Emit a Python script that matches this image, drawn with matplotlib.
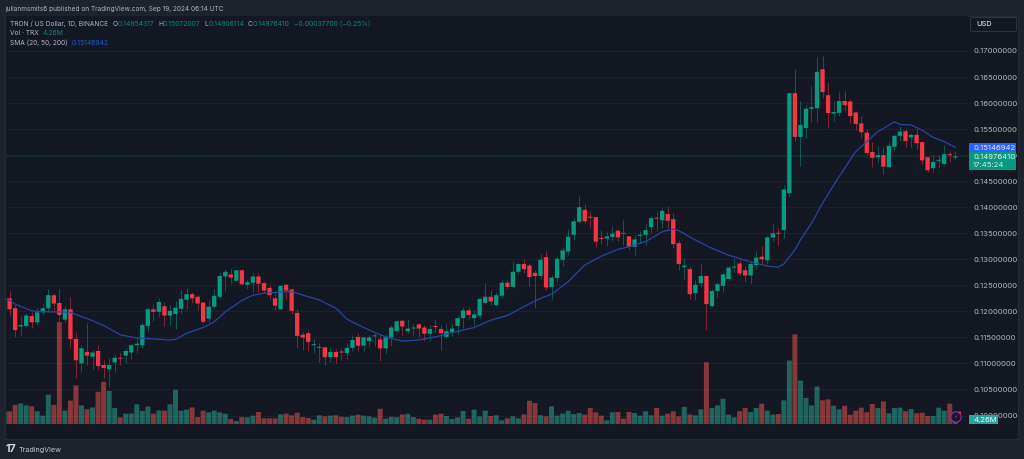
import matplotlib
matplotlib.use("Agg")
import matplotlib.pyplot as plt
from matplotlib.patches import Circle, FancyBboxPatch, Rectangle
from matplotlib.transforms import Bbox

W, H = 1024, 459

opens = [
    .1225, .1206, .1171, .1172, .1191, .1179, .1198, .1206, .1231, .1216,
    .1184, .1204, .1147, .1100, .1122, .1113, .1124, .1097, .1089, .1102,
    .1110, .1115, .1121, .1135, .1135, .1172, .1204, .1199, .1210, .1192,
    .1195, .1205, .1222, .1233, .1228, .1217, .1186, .1209, .1228, .1267,
    .1271, .1259, .1279, .1251, .1255, .1267, .1254, .1245, .1225, .1204,
    .1251, .1242, .1197, .1155, .1158, .1135, .1130, .1131, .1112, .1122,
    .1122, .1120, .1130, .1151, .1134, .1143, .1152, .1146, .1129, .1150,
    .1162, .1182, .1162, .1167, .1175, .1169, .1157, .1172, .1166, .1151,
    .1160, .1172, .1187, .1202, .1187, .1192, .1216, .1228, .1212, .1230,
    .1255, .1247, .1276, .1291, .1288, .1274, .1268, .1304, .1247, .1264,
    .1299, .1315, .1347, .1372, .1395, .1381, .1381, .1341, .1340, .1343,
    .1355, .1350, .1344, .1324, .1345, .1347, .1362, .1379, .1375, .1387,
    .1377, .1331, .1285, .1281, .1235, .1254, .1268, .1210, .1239, .1249,
    .1262, .1284, .1292, .1279, .1269, .1289, .1305, .1298, .1342, .1350,
    .1356, .1427, .1619, .1535, .1552, .1589, .1590, .1665, .1615, .1580,
    .1581, .1604, .1603, .1582, .1561, .1543, .1506, .1496, .1500, .1477,
    .1516, .1537, .1546, .1534, .1539, .1525, .1496, .1475, .1489, .1483,
    .1502, .14954,
]
highs = [
    .1239, .1212, .1192, .1196, .1199, .1206, .1215, .1243, .1236, .1243,
    .1210, .1228, .1161, .1135, .1177, .1126, .1135, .1106, .1110, .1116,
    .1121, .1129, .1140, .1148, .1180, .1209, .1215, .1225, .1218, .1212,
    .1219, .1241, .1245, .1238, .1231, .1218, .1222, .1242, .1275, .1281,
    .1281, .1279, .1281, .1263, .1273, .1273, .1257, .1251, .1235, .1251,
    .1253, .1245, .1204, .1161, .1164, .1147, .1139, .1131, .1129, .1128,
    .1129, .1139, .1155, .1158, .1151, .1155, .1159, .1155, .1157, .1174,
    .1183, .1183, .1185, .1177, .1177, .1174, .1173, .1185, .1174, .1176,
    .1176, .1193, .1209, .1208, .1203, .1227, .1255, .1241, .1238, .1262,
    .1262, .1296, .1293, .1300, .1293, .1280, .1310, .1315, .1270, .1306,
    .1323, .1358, .1379, .1422, .1406, .1393, .1382, .1356, .1353, .1364,
    .1356, .1375, .1345, .1347, .1355, .1369, .1383, .1390, .1398, .1402,
    .1389, .1337, .1302, .1288, .1260, .1291, .1270, .1243, .1257, .1276,
    .1288, .1303, .1299, .1288, .1297, .1316, .1325, .1346, .1367, .1361,
    .1442, .1620, .1665, .1604, .1596, .1633, .1688, .1690, .1640, .1604,
    .1621, .1623, .1607, .1584, .1575, .1550, .1526, .1518, .1515, .1526,
    .1540, .1556, .1551, .1542, .1550, .1526, .1497, .1500, .1500, .1519,
    .1507, .15072,
]
lows = [
    .1192, .1151, .1153, .1170, .1169, .1174, .1193, .1198, .1198, .1180,
    .1180, .1129, .1072, .1084, .1097, .1087, .1087, .1072, .1055, .1084,
    .1097, .1100, .1108, .1121, .1130, .1162, .1182, .1190, .1172, .1174,
    .1166, .1196, .1204, .1217, .1203, .1177, .1179, .1206, .1226, .1240,
    .1254, .1258, .1251, .1242, .1238, .1238, .1235, .1224, .1203, .1204,
    .1222, .1195, .1130, .1126, .1124, .1121, .1102, .1097, .1103, .1101,
    .1107, .1108, .1123, .1123, .1124, .1132, .1134, .1105, .1119, .1134,
    .1158, .1155, .1158, .1153, .1150, .1143, .1144, .1160, .1126, .1148,
    .1153, .1157, .1169, .1186, .1173, .1187, .1214, .1212, .1211, .1225,
    .1243, .1244, .1271, .1273, .1249, .1206, .1263, .1241, .1224, .1257,
    .1288, .1308, .1337, .1369, .1370, .1361, .1324, .1329, .1326, .1335,
    .1335, .1327, .1318, .1308, .1331, .1327, .1351, .1355, .1361, .1361,
    .1321, .1279, .1263, .1223, .1222, .1247, .1164, .1209, .1228, .1238,
    .1259, .1275, .1270, .1256, .1252, .1281, .1290, .1290, .1335, .1328,
    .1340, .1420, .1528, .1479, .1532, .1564, .1564, .1610, .1552, .1566,
    .1575, .1585, .1561, .1548, .1532, .1500, .1478, .1486, .1463, .1475,
    .1507, .1527, .1516, .1515, .1512, .1483, .1467, .1468, .1475, .1482,
    .1486, .14906,
]
closes = [
    .1204, .1164, .1174, .1192, .1179, .1198, .1206, .1231, .1215, .1193,
    .1204, .1147, .1106, .1129, .1115, .1121, .1095, .1091, .1097, .1111,
    .1109, .1124, .1135, .1138, .1174, .1204, .1199, .1218, .1192, .1201,
    .1207, .1224, .1233, .1225, .1215, .1180, .1209, .1230, .1268, .1276,
    .1265, .1279, .1252, .1256, .1267, .1253, .1240, .1231, .1211, .1249,
    .1240, .1201, .1153, .1150, .1141, .1137, .1131, .1112, .1122, .1112,
    .1121, .1130, .1145, .1134, .1150, .1150, .1153, .1129, .1150, .1169,
    .1181, .1171, .1167, .1168, .1167, .1157, .1166, .1170, .1158, .1162,
    .1167, .1187, .1202, .1193, .1194, .1224, .1228, .1219, .1231, .1255,
    .1247, .1276, .1291, .1281, .1266, .1268, .1299, .1246, .1265, .1301,
    .1317, .1343, .1373, .1400, .1373, .1380, .1334, .1339, .1344, .1349,
    .1342, .1349, .1324, .1338, .1347, .1356, .1379, .1378, .1393, .1374,
    .1329, .1291, .1288, .1233, .1251, .1268, .1214, .1239, .1252, .1271,
    .1284, .1286, .1273, .1269, .1291, .1303, .1300, .1342, .1350, .1349,
    .1434, .1619, .1535, .1558, .1589, .1592, .1660, .1621, .1581, .1583,
    .1604, .1596, .1575, .1560, .1544, .1504, .1495, .1500, .1478, .1518,
    .1537, .1545, .1527, .1539, .1523, .1490, .1471, .1487, .1491, .1502,
    .1500, .14976,
]
# volume in millions of TRX, one per candle
volumes = [
    14.6, 22, 23.7, 21.4, 20.3, 14.6, 9.6, 33.7, 22, 117,
    15.3, 27, 44.4, 21.4, 17, 19, 37, 48.6, 38, 18.4,
    7.7, 11.9, 11.9, 22.6, 15, 20, 11.9, 15.7, 15.3, 22.6,
    39.4, 15.3, 16.5, 19, 8, 15.3, 13.4, 15.3, 13.4, 11.9,
    5.7, 3.4, 8, 7.7, 9.6, 13.8, 6.5, 6.5, 6.5, 11,
    11.9, 10, 13, 8, 6.9, 5, 10, 8.8, 9.6, 10,
    8.4, 8, 9.6, 10.7, 9.6, 8.8, 7.3, 17.6, 6.1, 8.4,
    7.7, 11, 11.9, 8, 6, 5, 5, 10.7, 11.9, 9.2,
    5.7, 7.7, 15, 6, 16.5, 8.8, 15.3, 9.2, 10, 4.2,
    6.5, 8.8, 6.5, 11, 26.8, 24, 10, 8.8, 20.3, 9.6,
    11.9, 15.3, 11.5, 12.6, 10.7, 18.4, 13.4, 9.6, 4.2, 13.4,
    13.8, 6, 13.8, 12.6, 9.6, 14.6, 10, 18.4, 9.6, 11.9,
    14.6, 8.8, 19.5, 11, 10, 16.9, 70.9, 18.4, 21.4, 29,
    10.7, 7.7, 14.6, 18.4, 13.8, 18.4, 23.4, 15.3, 10.7, 11.5,
    27.2, 73, 103, 50, 30, 21.4, 43, 27.2, 28.3, 21,
    16.9, 21, 10.7, 15.3, 18.8, 13.4, 23, 18.4, 26, 12.3,
    18.4, 18.8, 14.6, 17.2, 12.3, 13, 9.2, 9.2, 18.8, 15.3,
    23.4, 4.26,
]
# the bar before the first candle, mostly cut off by the left edge
prior_volume = 14

sma_days = [
    -1, 0, 1, 4, 7, 9, 11, 13, 15, 17, 19, 20, 23, 26, 29, 30, 32, 35, 37, 39,
    42, 44, 46, 49, 51, 54, 56, 59, 60, 61, 64, 67, 69, 71, 74, 77, 80, 84, 87,
    90, 93, 96, 98, 101, 104, 107, 110, 112, 115, 116, 118, 120, 121, 122, 123,
    124, 127, 130, 134, 137, 139, 140, 142, 143, 145, 147, 150, 153, 155, 157,
    160, 161, 163, 165, 167, 169, 171,
]
sma_values = [
    .1225, .1221, .1214, .1201, .1199, .1199, .1198, .1190, .1182, .1173, .1161,
    .1155, .1149, .1147, .1145, .1146, .1158, .1169, .1180, .1199, .1221, .1231,
    .1235, .1237, .1238, .1228, .1222, .1206, .1196, .1185, .1169, .1155, .1148,
    .1143, .1145, .1151, .1159, .1169, .1183, .1192, .1209, .1225, .1233, .1257,
    .1289, .1306, .1319, .1324, .1334, .1340, .1353, .1358, .1355, .1349, .1343,
    .1337, .1321, .1308, .1295, .1287, .1285, .1291, .1318, .1337, .1369, .1408,
    .1459, .1507, .1526, .1545, .1564, .1559, .1558, .1548, .1534, .1526, .1515,
]

tick_days = [0, 14, 30, 42, 51, 61, 70, 79, 91, 105, 122, 133, 142, 153, 168]
tick_labels = ["Apr", "15", "May", "13", "22", "Jun", "10", "19", "Jul", "15",
               "Aug", "12", "21", "Sep", "16"]
month_labels = ["Apr", "May", "Jun", "Jul", "Aug", "Sep"]
price_ticks = [.10, .105, .11, .115, .12, .125, .13, .135, .14, .145, .15, .155, .16, .165, .17]

BG = "#141823"
OUTER = "#1e222d"
UP = "#089981"
DOWN = "#f23645"
VOL_UP = "#20645e"
VOL_DOWN = "#86373a"
TEXT = "#b2b5be"
SMA_COLOR = "#2847a8"

plt.rcParams["font.family"] = ["Inter", "DejaVu Sans"]

fig = plt.figure(figsize=(W / 100, H / 100), dpi=100, facecolor=OUTER)


def fx(px):
    return px / W


def fy(py):
    return 1 - py / H


def label(px, py, text, color=TEXT, size=4.7, zorder=10, **kw):
    kw.setdefault("va", "center")
    return fig.text(fx(px), fy(py), text, color=color, fontsize=size, zorder=zorder, **kw)


def box(x0, y0, x1, y1, color, edge="none", zorder=6):
    fig.add_artist(Rectangle((fx(x0), fy(y1)), fx(x1 - x0), (y1 - y0) / H,
                             transform=fig.transFigure, facecolor=color,
                             edgecolor=edge, linewidth=0.6, zorder=zorder))


# chart panel behind the axes
box(5, 16, 1018, 439, BG, edge="#2a2e39", zorder=-1)

# left, right, top, bottom of the plot area in pixels
L, R, T, B = 6, 968, 16, 424
ax_vol = fig.add_axes([fx(L), fy(B), (R - L) / W, (B - T) / H])
ax_vol.set_facecolor(BG)
ax = ax_vol.twinx()
ax_vol.set_zorder(1)
ax.set_zorder(2)
ax.patch.set_visible(False)

days = list(range(len(closes)))
rising = [c >= o for o, c in zip(opens, closes)]
colors = [UP if r else DOWN for r in rising]
vol_colors = [VOL_UP if r else VOL_DOWN for r in rising]

ax_vol.bar([-1], [prior_volume], width=0.9, color=VOL_UP, snap=False)
ax_vol.bar(days, volumes, width=0.9, color=vol_colors, snap=False)
ax_vol.set_ylim(0, 469)
ax_vol.set_yticks([])

ax.vlines(days, lows, highs, colors=colors, linewidth=0.7, alpha=0.5, zorder=3)
bottoms = [min(o, c) for o, c in zip(opens, closes)]
# very small bodies still show as a one pixel line
sizes = [max(abs(o - c), 0.00018) for o, c in zip(opens, closes)]
ax.bar(days, sizes, bottom=bottoms, width=0.78, color=colors, zorder=4, snap=False)
ax.plot(sma_days, sma_values, color=SMA_COLOR, linewidth=0.85, zorder=5)
ax.axhline(closes[-1], color="#14423f", linewidth=0.8, linestyle=(0, (1, 1)), zorder=2)

ax.set_xlim(-0.65, 173.3)
ax.set_ylim(0.09837, 0.17672)
ax.set_xticks(tick_days)
ax.set_xticklabels(tick_labels)
ax_vol.set_xticks(tick_days)
ax_vol.set_xticklabels([])
ax.set_yticks(price_ticks)
ax.set_yticklabels([f"{p:.8f}" for p in price_ticks])
ax.tick_params(axis="both", length=0, colors=TEXT, labelsize=5.5)
ax_vol.tick_params(axis="both", length=0)
ax.tick_params(axis="x", pad=3.6, labelbottom=True)
ax.tick_params(axis="y", pad=3.6)
ax.grid(True, color="white", alpha=0.05, linewidth=0.6)

for spine_ax in (ax, ax_vol):
    for spine in spine_ax.spines.values():
        spine.set_visible(False)

# "Apr" is cut by the left edge of the panel
clip = Bbox([[L, 0], [R, H]])
for tick in ax.get_xticklabels():
    if tick.get_text() in month_labels:
        tick.set_fontweight("medium")
    if tick.get_text() == "Apr":
        tick.set_clip_box(clip)
        tick.set_clip_on(True)

# header and legend
label(5.5, 8.5, "julianmsmits6 published on TradingView.com, Sep 19, 2024 06:14 UTC", size=4.65)
label(10, 23.8, "TRON / US Dollar, 1D, BINANCE", size=4.75)
legend_green = "#0a8a75"
ohlc = [(112.5, "O", "0.14954317"), (158, "H", "0.15072007"), (204, "L", "0.14906114"),
        (248, "C", "0.14976410")]
for x, key, value in ohlc:
    label(x, 23.8, key, size=4.75)
    label(x + 5, 23.8, value, color=legend_green, size=4.9)
label(294, 23.8, "\u22120.00037700 (\u22120.25%)", color=legend_green, size=4.9)
label(10, 33.2, "Vol \u00b7 TRX", size=4.75)
label(43, 33.2, "4.26M", color=legend_green, size=4.9)
label(10, 42.7, "SMA (20, 50, 200)", size=4.75)
label(72, 42.7, "0.15146942", color="#2a56d0", size=4.9)

# currency button
fig.add_artist(FancyBboxPatch((fx(970.5), fy(31.5)), fx(46), 14 / H,
                              boxstyle="round,pad=0,rounding_size=0.003",
                              transform=fig.transFigure, facecolor=BG,
                              edgecolor="#363a45", linewidth=0.6, zorder=6))
label(976, 24.5, "USD", color="#d1d4dc", size=5.3, fontweight="medium")

# last value tags on the price scale
box(969, 143, 1016, 152, "#2962ff")
label(973, 147.6, "0.15146942", color="#e8ecf8", size=5.5)
box(969, 152, 1016, 170, UP)
label(973, 157.2, "0.14976410", color="#e8f5f2", size=5.5)
label(973, 164.8, "17:45:24", color="#d5efe9", size=5.5)
box(969, 415, 998, 424, "#26a69a")
label(973, 419.6, "4.26M", color="#eafaf7", size=5.5)

# alert icon over the last volume bar
fig.add_artist(Circle((956, H - 417), 5.2, transform=None, facecolor=BG,
                      edgecolor="#8e2aa8", linewidth=0.9, zorder=7))
fig.add_artist(Circle((960, H - 412.5), 1.1, transform=None, facecolor=DOWN,
                      edgecolor="none", zorder=8))
label(956, 417, "\u26a1", color="#8e2aa8", size=4.5, ha="center", family="DejaVu Sans")

# footer
label(5.5, 449.5, "17", color="#d8dae0", size=7.6, fontweight="bold")
label(19, 449.8, "TradingView", color="#c4c7ce", size=5.2)

fig.savefig("out.png", dpi=100, facecolor=fig.get_facecolor())
